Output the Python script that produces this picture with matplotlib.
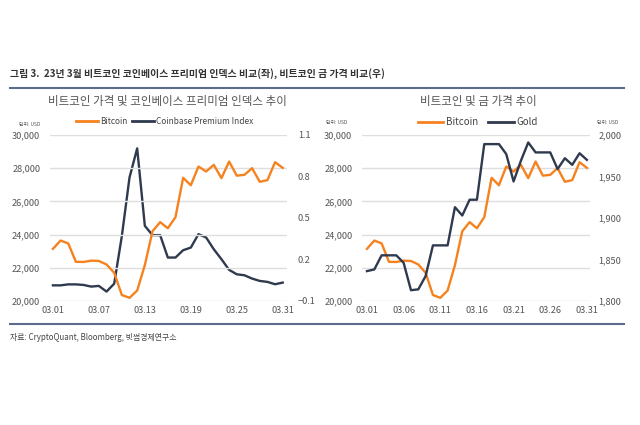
import matplotlib.pyplot as plt
from matplotlib.lines import Line2D

plt.rcParams['font.family'] = ['Noto Sans CJK KR', 'DejaVu Sans']

# 3월 일별 데이터 (1일~31일)
days = list(range(1, 32))
bitcoin = [23140, 23640, 23470, 22360, 22350, 22430, 22410, 22200, 21700, 20360,
           20190, 20630, 22160, 24200, 24750, 24380, 25050, 27420, 26970, 28100,
           27800, 28200, 27400, 28400, 27550, 27600, 28000, 27180, 27280, 28360, 28020]
premium = [0.013, 0.013, 0.020, 0.020, 0.016, 0.004, 0.009, -0.032, 0.025, 0.37,
           0.793, 1.003, 0.443, 0.376, 0.376, 0.214, 0.214, 0.267, 0.286, 0.383,
           0.359, 0.274, 0.202, 0.125, 0.093, 0.086, 0.062, 0.045, 0.038, 0.021, 0.033]
gold = [1836, 1838, 1855, 1855, 1855, 1846, 1813, 1814, 1830, 1867,
        1867, 1867, 1913, 1903, 1922, 1922, 1989, 1989, 1989, 1977,
        1944, 1969, 1991, 1979, 1979, 1979, 1959, 1972, 1964, 1978, 1970]

left_xticks = [1, 7, 13, 19, 25, 31]
right_xticks = [1, 6, 11, 16, 21, 26, 31]

ORANGE = '#f5821f'
NAVY = '#2f3a4e'
GRID = '#dedede'
TICK = '#555555'

fig = plt.figure(figsize=(6.4, 4.25), dpi=100, facecolor='white')

def style(ax):
    for s in ax.spines.values():
        s.set_visible(False)
    ax.tick_params(length=0, labelsize=6.6, colors=TICK)
    ax.tick_params(axis='y', pad=7)
    ax.grid(axis='y', color=GRID, linewidth=1)
    ax.set_axisbelow(True)

# 왼쪽 차트
ax1 = fig.add_axes([0.078, 0.2918, 0.37, 0.3906])
ax1.plot(days, bitcoin, color=ORANGE, lw=1.7, zorder=3)
ax1.set_ylim(20000, 30000)
ax1.set_yticks([20000, 22000, 24000, 26000, 28000, 30000])
ax1.set_yticklabels([f'{v:,}' for v in [20000, 22000, 24000, 26000, 28000, 30000]])
ax1.set_xlim(0.61, 31.52)
ax1.set_xticks(left_xticks)
ax1.set_xticklabels([f'03.{d:02d}' for d in left_xticks])
style(ax1)
ax1b = ax1.twinx()
ax1b.plot(days, premium, color=NAVY, lw=1.7, zorder=2)
ax1b.set_ylim(-0.1, 1.1)
ax1b.set_yticks([-0.1, 0.2, 0.5, 0.8, 1.1])
for s in ax1b.spines.values():
    s.set_visible(False)
ax1b.tick_params(length=0, labelsize=6.6, colors=TICK, pad=8)
ax1.set_zorder(ax1b.get_zorder() + 1)
ax1.patch.set_visible(False)

# 오른쪽 차트
ax2 = fig.add_axes([0.5656, 0.2918, 0.356, 0.3906])
ax2.plot(days, bitcoin, color=ORANGE, lw=1.7, zorder=3)
ax2.set_ylim(20000, 30000)
ax2.set_yticks([20000, 22000, 24000, 26000, 28000, 30000])
ax2.set_yticklabels([f'{v:,}' for v in [20000, 22000, 24000, 26000, 28000, 30000]])
ax2.set_xlim(0.32, 31.4)
ax2.set_xticks(right_xticks)
ax2.set_xticklabels([f'03.{d:02d}' for d in right_xticks])
style(ax2)
ax2b = ax2.twinx()
ax2b.plot(days, gold, color=NAVY, lw=1.7, zorder=2)
ax2b.set_ylim(1800, 2000)
ax2b.set_yticks([1800, 1850, 1900, 1950, 2000])
ax2b.set_yticklabels([f'{v:,}' for v in [1800, 1850, 1900, 1950, 2000]])
for s in ax2b.spines.values():
    s.set_visible(False)
ax2b.tick_params(length=0, labelsize=6.6, colors=TICK, pad=6)

# 범례
h1 = [Line2D([], [], color=ORANGE, lw=2), Line2D([], [], color=NAVY, lw=2)]
fig.legend(h1, ['Bitcoin', 'Coinbase Premium Index'], loc='center', bbox_to_anchor=(165/640, 1-121/425),
           ncol=2, frameon=False, fontsize=6, handlelength=2.6, handletextpad=0.3, columnspacing=0.5,
           labelcolor='#444444')
fig.legend(h1, ['Bitcoin', 'Gold'], loc='center', bbox_to_anchor=(478/640, 1-122/425),
           ncol=2, frameon=False, fontsize=7, handlelength=2.6, handletextpad=0.3, columnspacing=1.0,
           labelcolor='#444444')

# 제목, 단위, 출처
fig.text(10/640, 1-75/425, '그림 3.  23년 3월 비트코인 코인베이스 프리미엄 인덱스 비교(좌), 비트코인 금 가격 비교(우)',
         fontsize=7.1, fontweight='bold', color='#333333', va='center')
fig.add_artist(Line2D([10/640, 624/640], [1-88/425, 1-88/425], color='#5d6b8c', lw=1.5))
fig.add_artist(Line2D([10/640, 624/640], [1-324/425, 1-324/425], color='#5d6b8c', lw=1.5))
fig.text(167/640, 1-101/425, '비트코인 가격 및 코인베이스 프리미엄 인덱스 추이', fontsize=8.3,
         color='#555555', ha='center', va='center')
fig.text(478/640, 1-101/425, '비트코인 및 금 가격 추이', fontsize=8.3,
         color='#555555', ha='center', va='center')
fig.text(40/640, 1-125/425, '단위: USD', fontsize=3.5, color='#555555', ha='right', va='center')
fig.text(347/640, 1-123/425, '단위: USD', fontsize=3.5, color='#555555', ha='right', va='center')
fig.text(597/640, 1-123/425, '단위: USD', fontsize=3.5, color='#555555', ha='left', va='center')
fig.text(10/640, 1-338/425, '자료: CryptoQuant, Bloomberg, 빗썸경제연구소', fontsize=5.7,
         color='#444444', va='center')

fig.savefig('out.png', dpi=100, facecolor='white')
